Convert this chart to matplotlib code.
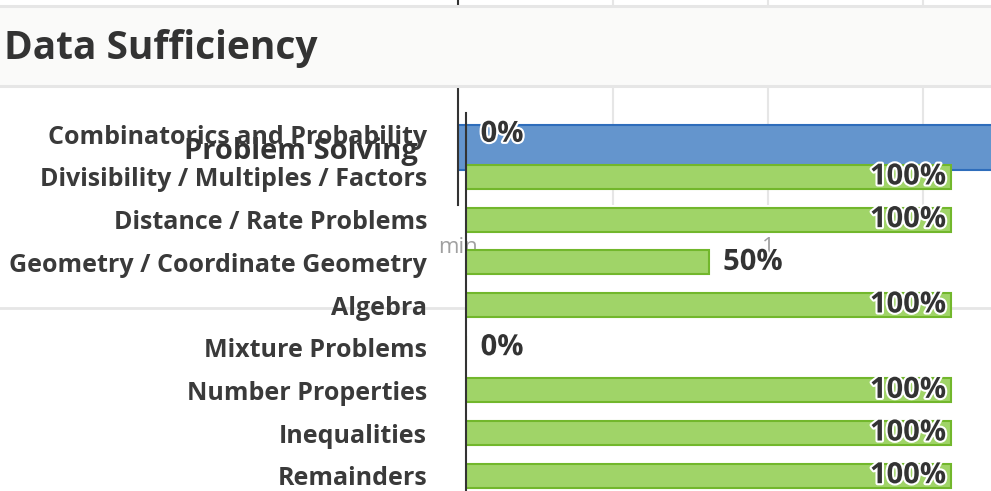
import matplotlib
matplotlib.use("Agg")
import matplotlib.pyplot as plt
import matplotlib.patheffects as pe

# Foreground chart: Data Sufficiency
categories = [
    "Combinatorics and Probability",
    "Divisibility / Multiples / Factors",
    "Distance / Rate Problems",
    "Geometry / Coordinate Geometry",
    "Algebra",
    "Mixture Problems",
    "Number Properties",
    "Inequalities",
    "Remainders",
]
ds_values = [0, 1, 1, 0.5, 1, 0, 1, 1, 1]

# Background chart peeking through: Problem Solving
ps_categories = ["Problem Solving"]
ps_values = [1.8]
ps_tick_values = [0, 1]
ps_tick_labels = ["min", "1"]

plt.rcParams["font.family"] = ["Open Sans", "DejaVu Sans"]

W, H = 991, 491
fig = plt.figure(figsize=(W / 100, H / 100), dpi=100)
fig.patch.set_facecolor("white")

DARK = "#333333"
GRID = "#e6e6e6"


def px_axes(left, top, width, height, **kw):
    # place an axes using pixel coordinates measured from the top left
    return fig.add_axes([left / W, 1 - (top + height) / H, width / W, height / H], **kw)


# --- background chart ---
ax_bg = px_axes(458, 0, 533, 205, zorder=1)
bg_unit = 310.0  # pixels per value unit
bg_row = 56.25
ax_bg.set_xlim(0, 533 / bg_unit)
ax_bg.set_ylim(57.5 / bg_row, -147.5 / bg_row)
ax_bg.barh(range(len(ps_categories)), ps_values, height=0.8,
           color="#6495cd", edgecolor="#2e6dbb", linewidth=1.5, zorder=2)
ax_bg.set_yticks(range(len(ps_categories)))
ax_bg.set_yticklabels(ps_categories, fontsize=21, fontweight="bold", color=DARK)
ax_bg.tick_params(axis="y", length=0, pad=29)
ax_bg.set_xticks(ps_tick_values)
ax_bg.set_xticklabels(ps_tick_labels, fontsize=16, color="#a0a0a0")
ax_bg.set_xticks([0.5, 1.5], minor=True)
ax_bg.tick_params(axis="x", which="both", length=0, pad=23)
ax_bg.grid(axis="x", which="both", color=GRID, linewidth=1.5)
ax_bg.set_axisbelow(True)
for s in ["top", "right", "bottom"]:
    ax_bg.spines[s].set_visible(False)
ax_bg.spines["left"].set_color(DARK)
ax_bg.spines["left"].set_linewidth(1.5)
ax_bg.spines["left"].set_zorder(3)

# --- header and separator lines ---
ax_deco = px_axes(0, 0, W, H, zorder=2)
ax_deco.set_facecolor("none")
ax_deco.axis("off")
ax_deco.set_xlim(0, W)
ax_deco.set_ylim(H, 0)
ax_deco.axhspan(6, 86, color="#fafaf9", linewidth=0)
ax_deco.axhline(6.2, color=GRID, linewidth=2.2)
ax_deco.axhline(86.2, color=GRID, linewidth=2.2)
ax_deco.axhline(307.5, color=GRID, linewidth=2)
ax_deco.text(4, 58.5, "Data Sufficiency", fontsize=28, fontweight="bold",
             color=DARK, va="baseline", ha="left")

# --- foreground chart ---
ax = px_axes(466, 113, 525, 378, zorder=3)
ax.set_facecolor("none")
unit = 485.0
row = 42.67
ax.set_xlim(0, 525 / unit)
ax.set_ylim(8 + (491 - 475.7) / row, -(134.3 - 113) / row)
ypos = list(range(len(categories)))
ax.barh(ypos, ds_values, height=24 / row, color="#a0d468",
        edgecolor="#72b72c", linewidth=1.5)

outline = [pe.withStroke(linewidth=3, foreground="white")]
for y, v in zip(ypos, ds_values):
    label = f"{int(round(v * 100))}%"
    if v >= 0.9:
        ax.annotate(label, (v, y), xytext=(-3.5, 0), textcoords="offset points",
                    ha="right", va="center", fontsize=21, fontweight="bold",
                    color=DARK, path_effects=outline)
    else:
        ax.annotate(label, (v, y), xytext=(10.5, 0), textcoords="offset points",
                    ha="left", va="center", fontsize=21, fontweight="bold",
                    color=DARK, path_effects=outline)

ax.set_yticks(ypos)
ax.set_yticklabels(categories, fontsize=18, fontweight="bold", color="#3a3a3a")
ax.tick_params(axis="y", length=0, pad=28)
ax.set_xticks([])
for s in ["top", "right", "bottom"]:
    ax.spines[s].set_visible(False)
ax.spines["left"].set_color(DARK)
ax.spines["left"].set_linewidth(1.5)

fig.savefig("out.png", dpi=100)
